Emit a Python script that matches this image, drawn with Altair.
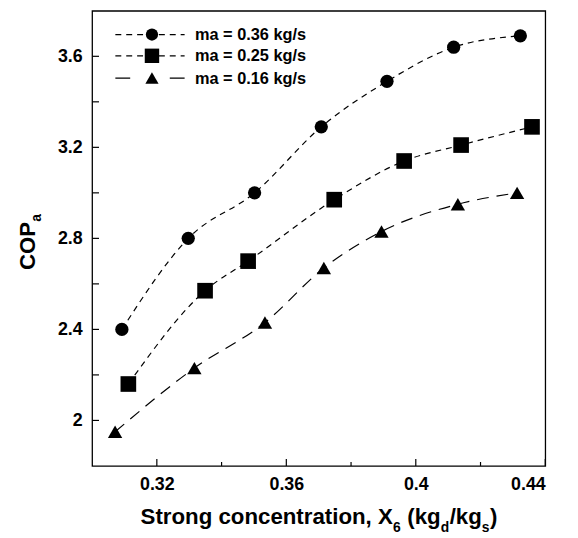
import altair as alt
import pandas as pd

# ---- data ----
x_036 = [0.3092, 0.3297, 0.3502, 0.3708, 0.3911, 0.4117, 0.4323]
y_036 = [2.40, 2.80, 3.00, 3.29, 3.49, 3.64, 3.69]
x_025 = [0.3112, 0.3349, 0.3482, 0.3748, 0.3964, 0.4140, 0.4359]
y_025 = [2.16, 2.57, 2.70, 2.97, 3.14, 3.21, 3.29]
x_016 = [0.3071, 0.3316, 0.3534, 0.3716, 0.3894, 0.4130, 0.4313]
y_016 = [1.95, 2.23, 2.43, 2.67, 2.83, 2.95, 3.00]
series_labels = ["ma = 0.36 kg/s", "ma = 0.25 kg/s", "ma = 0.16 kg/s"]
x_ticks = [0.32, 0.36, 0.40, 0.44]
x_minor = [0.34, 0.38, 0.42]
y_ticks = [2.0, 2.4, 2.8, 3.2, 3.6]
y_minor = [2.2, 2.6, 3.0, 3.4]
# (text, is_subscript, leading space)
x_title_parts = [("Strong concentration, X", False, False), ("6", True, False),
                 ("(kg", False, True), ("d", True, False), ("/kg", False, False),
                 ("s", True, False), (")", False, False)]
y_title_parts = [("COP", False), ("a", True)]

# ---- styling ----
FONT = "Liberation Sans"
W, H = 458, 460
TITLE_FS, SUB_FS = 22.5, 14
AW = {" ": 278, "(": 333, ")": 333, ",": 278, ".": 278, "/": 278, "=": 584,
      "A": 722, "C": 722, "O": 778, "P": 667, "S": 667, "X": 667,
      "a": 556, "c": 556, "d": 611, "e": 556, "g": 611, "i": 278, "k": 556,
      "m": 889, "n": 611, "o": 611, "r": 389, "s": 556, "t": 333}


def text_width(s, fs):
    return sum(AW.get(ch, 556) for ch in s) * fs / 1000.0


xs = alt.Scale(domain=[0.30, 0.44], nice=False, zero=False)
ys = alt.Scale(domain=[1.8, 3.8], nice=False, zero=False)
xaxis = alt.Axis(values=x_ticks, format=".2~f", title=None, ticks=False, domain=False,
                 grid=False, labelPadding=10)
yaxis = alt.Axis(values=y_ticks, format=".1~f", title=None, ticks=False, domain=False,
                 grid=False, labelPadding=10)

series = [
    (x_036, y_036, "circle", 180, [6, 5], [6, 5]),
    (x_025, y_025, "square", 250, [6, 5], [6, 5]),
    (x_016, y_016, "triangle-up", 210, [12, 8], [15, 40]),
]

layers = []
for xv, yv, shape, size, dash, _ in series:
    df = pd.DataFrame({"x": xv, "y": yv})
    enc = dict(x=alt.X("x:Q", scale=xs, axis=xaxis), y=alt.Y("y:Q", scale=ys, axis=yaxis))
    layers.append(alt.Chart(df).mark_line(interpolate="monotone", color="black",
                                          strokeWidth=1.2, strokeDash=dash).encode(**enc))
    layers.append(alt.Chart(df).mark_point(shape=shape, size=size, filled=True,
                                           color="black", opacity=1).encode(**enc))


# inner ticks
def xtick_layer(vals, length):
    return alt.Chart(pd.DataFrame({"x": vals})).mark_rule(color="black", strokeWidth=1.2).encode(
        x=alt.X("x:Q", scale=xs, axis=xaxis), y=alt.value(H), y2=alt.value(H - length))


def ytick_layer(vals, length):
    return alt.Chart(pd.DataFrame({"y": vals})).mark_rule(color="black", strokeWidth=1.2).encode(
        y=alt.Y("y:Q", scale=ys, axis=yaxis), x=alt.value(0), x2=alt.value(length))


layers += [xtick_layer(x_ticks, 7), xtick_layer(x_minor, 4),
           ytick_layer(y_ticks, 7), ytick_layer(y_minor, 7)]

# legend
leg_y = [24, 45.5, 68]
for (xv, yv, shape, size, dash, ldash), label, ly in zip(series, series_labels, leg_y):
    one = pd.DataFrame({"t": [label]})
    layers.append(alt.Chart(one).mark_rule(color="black", strokeWidth=1.2, strokeDash=ldash).encode(
        x=alt.value(23.5), x2=alt.value(93.5), y=alt.value(ly)))
    layers.append(alt.Chart(one).mark_point(shape=shape, size=size * 0.85, filled=True,
                                            color="black", opacity=1).encode(
        x=alt.value(60.5), y=alt.value(ly)))
    layers.append(alt.Chart(one).mark_text(align="left", baseline="middle", font=FONT,
                                           fontWeight="bold", fontSize=16.5, color="black").encode(
        text="t:N", x=alt.value(104), y=alt.value(ly + 0.5)))

# x title with subscripts
cx = 49.0
for part, sub, space in x_title_parts:
    fs = SUB_FS if sub else TITLE_FS
    if space:
        cx += text_width(" ", fs)
    layers.append(alt.Chart(pd.DataFrame({"t": [part]})).mark_text(
        align="left", baseline="alphabetic", font=FONT, fontWeight="bold", fontSize=fs,
        color="black").encode(text="t:N", x=alt.value(cx), y=alt.value(519 + (8 if sub else 0))))
    cx += text_width(part, fs) + (0.5 if sub else 0)

# y title (rotated) with subscript
cy = 262.0
for part, sub in y_title_parts:
    fs = SUB_FS if sub else TITLE_FS
    layers.append(alt.Chart(pd.DataFrame({"t": [part]})).mark_text(
        align="left", baseline="alphabetic", angle=270, font=FONT, fontWeight="bold",
        fontSize=fs, color="black").encode(text="t:N", x=alt.value(-58 + (6 if sub else 0)),
                                           y=alt.value(cy)))
    cy -= text_width(part, fs)

chart = alt.layer(*layers).properties(
    width=W, height=H,
    padding={"left": 85, "top": 0, "right": 25, "bottom": 70},
    autosize=alt.AutoSizeParams(type="none"),
).configure_view(stroke="black", strokeWidth=1.3).configure_axis(
    labelFont=FONT, labelFontSize=18, labelFontWeight="bold", labelColor="black"
)

chart.save("out.html", embed_options={"renderer": "svg", "actions": False})
